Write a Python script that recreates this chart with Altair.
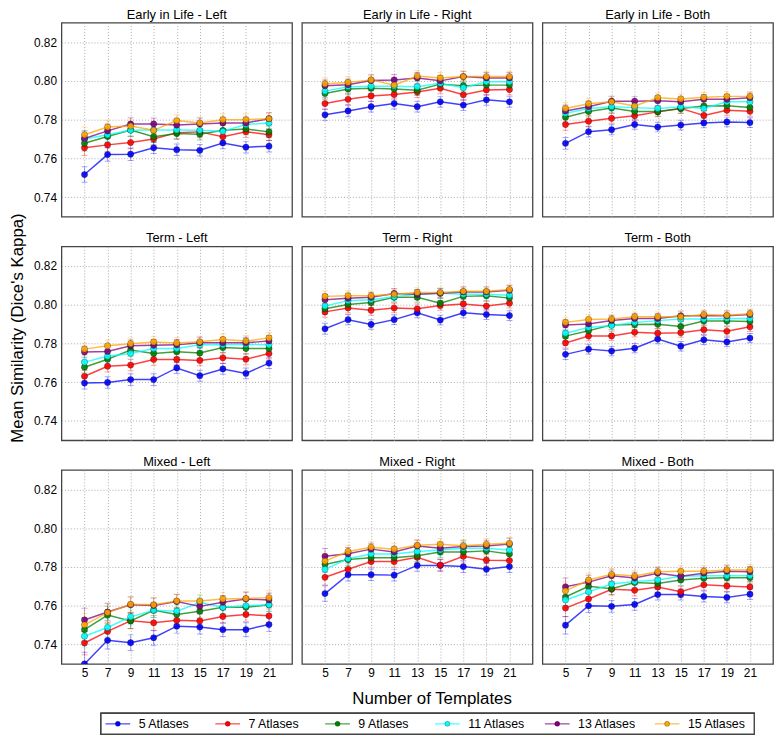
import altair as alt
import pandas as pd

TEMPLATES = [5, 7, 9, 11, 13, 15, 17, 19, 21]
SERIES = ["5 Atlases", "7 Atlases", "9 Atlases", "11 Atlases", "13 Atlases", "15 Atlases"]
COLORS = ["#0000ff", "#ff0000", "#008000", "#00ffff", "#800080", "#ffa500"]

# values per panel: one list per series (5, 7, 9, 11, 13, 15 atlases)
EARLY_LEFT = [
    [0.7517, 0.7620, 0.7622, 0.7655, 0.7645, 0.7642, 0.7680, 0.7658, 0.7663],
    [0.7655, 0.7670, 0.7682, 0.7700, 0.7733, 0.7737, 0.7712, 0.7738, 0.7722],
    [0.7678, 0.7713, 0.7747, 0.7712, 0.7728, 0.7725, 0.7745, 0.7752, 0.7737],
    [0.7700, 0.7722, 0.7745, 0.7747, 0.7747, 0.7745, 0.7740, 0.7775, 0.7783],
    [0.7703, 0.7742, 0.7778, 0.7778, 0.7772, 0.7778, 0.7783, 0.7783, 0.7805],
    [0.7722, 0.7762, 0.7767, 0.7745, 0.7795, 0.7783, 0.7800, 0.7800, 0.7805],
]
EARLY_RIGHT = [
    [0.7825, 0.7845, 0.7867, 0.7883, 0.7867, 0.7892, 0.7875, 0.7902, 0.7892],
    [0.7883, 0.7905, 0.7922, 0.7930, 0.7942, 0.7962, 0.7928, 0.7953, 0.7955],
    [0.7935, 0.7958, 0.7962, 0.7958, 0.7952, 0.7983, 0.7975, 0.7978, 0.7978],
    [0.7947, 0.7970, 0.7972, 0.7972, 0.7970, 0.7988, 0.7965, 0.7995, 0.7995],
    [0.7975, 0.7980, 0.8002, 0.8005, 0.8015, 0.8000, 0.8022, 0.8015, 0.8015],
    [0.7985, 0.7992, 0.8005, 0.7978, 0.8025, 0.8015, 0.8022, 0.8022, 0.8022],
]
EARLY_BOTH = [
    [0.7678, 0.7738, 0.7748, 0.7775, 0.7762, 0.7772, 0.7783, 0.7788, 0.7785],
    [0.7775, 0.7792, 0.7807, 0.7820, 0.7840, 0.7858, 0.7822, 0.7848, 0.7843],
    [0.7812, 0.7842, 0.7860, 0.7842, 0.7842, 0.7858, 0.7870, 0.7872, 0.7863],
    [0.7833, 0.7858, 0.7867, 0.7862, 0.7858, 0.7867, 0.7858, 0.7892, 0.7892],
    [0.7845, 0.7867, 0.7895, 0.7895, 0.7898, 0.7892, 0.7905, 0.7905, 0.7913],
    [0.7858, 0.7882, 0.7892, 0.7870, 0.7913, 0.7907, 0.7915, 0.7920, 0.7920],
]
TERM_LEFT = [
    [0.7595, 0.7598, 0.7613, 0.7613, 0.7673, 0.7633, 0.7668, 0.7645, 0.7698],
    [0.7630, 0.7682, 0.7688, 0.7717, 0.7717, 0.7712, 0.7725, 0.7718, 0.7747],
    [0.7677, 0.7718, 0.7765, 0.7748, 0.7757, 0.7750, 0.7778, 0.7773, 0.7773],
    [0.7703, 0.7733, 0.7748, 0.7773, 0.7773, 0.7792, 0.7792, 0.7795, 0.7792],
    [0.7755, 0.7758, 0.7787, 0.7790, 0.7792, 0.7803, 0.7803, 0.7803, 0.7812],
    [0.7770, 0.7787, 0.7798, 0.7807, 0.7802, 0.7808, 0.7820, 0.7812, 0.7828],
]
TERM_RIGHT = [
    [0.7875, 0.7922, 0.7897, 0.7922, 0.7957, 0.7920, 0.7957, 0.7948, 0.7943],
    [0.7962, 0.7982, 0.7970, 0.7982, 0.7978, 0.7995, 0.8003, 0.7992, 0.8007],
    [0.7978, 0.8000, 0.8010, 0.8037, 0.8037, 0.8007, 0.8042, 0.8045, 0.8033],
    [0.7992, 0.8020, 0.8025, 0.8040, 0.8053, 0.8058, 0.8053, 0.8053, 0.8048],
    [0.8025, 0.8032, 0.8037, 0.8057, 0.8053, 0.8058, 0.8065, 0.8065, 0.8073],
    [0.8042, 0.8045, 0.8045, 0.8053, 0.8062, 0.8062, 0.8068, 0.8068, 0.8078],
]
TERM_BOTH = [
    [0.7743, 0.7770, 0.7760, 0.7775, 0.7822, 0.7785, 0.7818, 0.7807, 0.7827],
    [0.7802, 0.7838, 0.7838, 0.7857, 0.7852, 0.7855, 0.7870, 0.7862, 0.7885],
    [0.7837, 0.7865, 0.7895, 0.7897, 0.7898, 0.7887, 0.7915, 0.7915, 0.7912],
    [0.7852, 0.7882, 0.7892, 0.7907, 0.7917, 0.7925, 0.7925, 0.7928, 0.7928],
    [0.7895, 0.7900, 0.7918, 0.7928, 0.7928, 0.7942, 0.7942, 0.7942, 0.7948],
    [0.7908, 0.7923, 0.7925, 0.7937, 0.7937, 0.7937, 0.7948, 0.7945, 0.7953],
]
MIXED_LEFT = [
    [0.7300, 0.7422, 0.7410, 0.7435, 0.7495, 0.7490, 0.7477, 0.7477, 0.7503],
    [0.7408, 0.7468, 0.7523, 0.7512, 0.7525, 0.7522, 0.7545, 0.7555, 0.7548],
    [0.7477, 0.7552, 0.7522, 0.7577, 0.7555, 0.7572, 0.7592, 0.7592, 0.7605],
    [0.7443, 0.7488, 0.7543, 0.7577, 0.7572, 0.7617, 0.7592, 0.7600, 0.7605],
    [0.7527, 0.7568, 0.7605, 0.7602, 0.7622, 0.7597, 0.7618, 0.7635, 0.7630],
    [0.7502, 0.7565, 0.7608, 0.7605, 0.7625, 0.7625, 0.7635, 0.7638, 0.7642],
]
MIXED_RIGHT = [
    [0.7663, 0.7760, 0.7760, 0.7758, 0.7808, 0.7808, 0.7802, 0.7788, 0.7802],
    [0.7747, 0.7788, 0.7828, 0.7828, 0.7850, 0.7810, 0.7855, 0.7835, 0.7833],
    [0.7813, 0.7838, 0.7847, 0.7847, 0.7858, 0.7877, 0.7877, 0.7883, 0.7867],
    [0.7788, 0.7842, 0.7867, 0.7867, 0.7880, 0.7888, 0.7897, 0.7897, 0.7888],
    [0.7855, 0.7868, 0.7892, 0.7877, 0.7908, 0.7897, 0.7905, 0.7908, 0.7918],
    [0.7830, 0.7880, 0.7902, 0.7892, 0.7912, 0.7917, 0.7910, 0.7917, 0.7922],
]
MIXED_BOTH = [
    [0.7500, 0.7600, 0.7597, 0.7607, 0.7658, 0.7658, 0.7648, 0.7643, 0.7660],
    [0.7588, 0.7635, 0.7685, 0.7680, 0.7697, 0.7672, 0.7708, 0.7702, 0.7697],
    [0.7645, 0.7700, 0.7688, 0.7720, 0.7715, 0.7733, 0.7742, 0.7745, 0.7745],
    [0.7630, 0.7672, 0.7712, 0.7725, 0.7733, 0.7752, 0.7755, 0.7755, 0.7755],
    [0.7698, 0.7722, 0.7755, 0.7743, 0.7768, 0.7752, 0.7768, 0.7778, 0.7775],
    [0.7677, 0.7733, 0.7762, 0.7753, 0.7775, 0.7778, 0.7778, 0.7785, 0.7785],
]

# error-bar half widths per panel, per template count
ERR_EARLY_LEFT = [0.0040, 0.0035, 0.0032, 0.0030, 0.0030, 0.0030, 0.0030, 0.0030, 0.0030]
ERR_EARLY_RIGHT = [0.0030, 0.0030, 0.0028, 0.0028, 0.0028, 0.0028, 0.0028, 0.0028, 0.0028]
ERR_EARLY_BOTH = [0.0030, 0.0028, 0.0026, 0.0025, 0.0025, 0.0025, 0.0025, 0.0025, 0.0025]
ERR_TERM_LEFT = [0.0030, 0.0030, 0.0030, 0.0030, 0.0028, 0.0028, 0.0028, 0.0028, 0.0028]
ERR_TERM_RIGHT = [0.0028, 0.0026, 0.0025, 0.0025, 0.0025, 0.0025, 0.0025, 0.0025, 0.0025]
ERR_TERM_BOTH = [0.0026, 0.0025, 0.0024, 0.0024, 0.0024, 0.0024, 0.0024, 0.0024, 0.0024]
ERR_MIXED_LEFT = [0.0060, 0.0045, 0.0040, 0.0038, 0.0036, 0.0035, 0.0035, 0.0035, 0.0035]
ERR_MIXED_RIGHT = [0.0040, 0.0032, 0.0030, 0.0030, 0.0030, 0.0030, 0.0030, 0.0030, 0.0030]
ERR_MIXED_BOTH = [0.0045, 0.0035, 0.0030, 0.0030, 0.0028, 0.0028, 0.0028, 0.0028, 0.0028]

PANELS = [
    ["Early in Life - Left", EARLY_LEFT, ERR_EARLY_LEFT],
    ["Early in Life - Right", EARLY_RIGHT, ERR_EARLY_RIGHT],
    ["Early in Life - Both", EARLY_BOTH, ERR_EARLY_BOTH],
    ["Term - Left", TERM_LEFT, ERR_TERM_LEFT],
    ["Term - Right", TERM_RIGHT, ERR_TERM_RIGHT],
    ["Term - Both", TERM_BOTH, ERR_TERM_BOTH],
    ["Mixed - Left", MIXED_LEFT, ERR_MIXED_LEFT],
    ["Mixed - Right", MIXED_RIGHT, ERR_MIXED_RIGHT],
    ["Mixed - Both", MIXED_BOTH, ERR_MIXED_BOTH],
]

FONT = "Liberation Sans"
W, H = 233, 196
CSCALE = alt.Scale(domain=SERIES, range=COLORS)


def panel(i):
    name, vals, errs = PANELS[i]
    row, col = divmod(i, 3)
    recs = []
    for s, series in enumerate(SERIES):
        for t, tmpl in enumerate(TEMPLATES):
            v = vals[s][t]
            recs.append({"template": tmpl, "series": series, "value": v,
                         "lo": v - errs[t], "hi": v + errs[t]})
    df = pd.DataFrame(recs)

    x_axis = alt.Axis(
        values=TEMPLATES, labels=(row == 2), ticks=False, domain=False,
        labelPadding=4, labelFontSize=12,
        title="Number of Templates" if (row == 2 and col == 1) else None,
        titleFontSize=17, titleFontWeight="normal", titleFont=FONT,
        titleX=131, titleY=35, titleBaseline="middle",
    )
    y_axis = alt.Axis(
        values=[0.74, 0.76, 0.78, 0.80, 0.82], format=".2f", labels=(col == 0),
        ticks=False, domain=False, labelPadding=5, labelFontSize=12,
        title="Mean Similarity (Dice's Kappa)" if (row == 0 and col == 0) else None,
        titleFontSize=17, titleFontWeight="normal", titleFont=FONT,
        titleX=-35, titleY=308,
    )
    xs = alt.Scale(domain=[3, 23], nice=False, zero=False)
    ys = alt.Scale(domain=[0.73, 0.83], nice=False, zero=False)

    base = alt.Chart(df)
    x = alt.X("template:Q", scale=xs, axis=x_axis)
    color = alt.Color("series:N", scale=CSCALE, legend=None)

    rules = base.mark_rule(strokeWidth=1, opacity=0.35, clip=True).encode(
        x=x, y=alt.Y("lo:Q", scale=ys, axis=y_axis), y2="hi:Q", color=color)
    cap_lo = base.mark_tick(orient="horizontal", size=6, thickness=1, opacity=0.35, clip=True).encode(
        x=x, y=alt.Y("lo:Q", scale=ys, axis=y_axis), color=color)
    cap_hi = base.mark_tick(orient="horizontal", size=6, thickness=1, opacity=0.35, clip=True).encode(
        x=x, y=alt.Y("hi:Q", scale=ys, axis=y_axis), color=color)
    lines = base.mark_line(strokeWidth=1.5, opacity=0.75, clip=True).encode(
        x=x, y=alt.Y("value:Q", scale=ys, axis=y_axis), color=color,
        detail="series:N")
    points = base.mark_point(filled=True, size=40, opacity=0.9, clip=True,
                             shape="circle", stroke="#000", strokeWidth=0.7,
                             strokeOpacity=0.45).encode(
        x=x, y=alt.Y("value:Q", scale=ys, axis=y_axis), color=color)

    return alt.layer(rules, cap_lo, cap_hi, lines, points).properties(
        width=W, height=H,
        title=alt.TitleParams(name, fontSize=13, fontWeight="normal", font=FONT,
                              offset=1, color="black", frame="group"),
    )


# legend drawn as a tenth cell under the grid (flush bounds: it may overhang its cell)
leg_df = pd.DataFrame({"series": SERIES})
leg_base = alt.Chart(leg_df).encode(
    x=alt.X("series:N", sort=SERIES, axis=None,
            scale=alt.Scale(type="point", range=[57, 612], padding=0)),
    color=alt.Color("series:N", scale=CSCALE, legend=None),
)
LEG_Y = 30.5
leg_frame = alt.Chart(leg_df).mark_rect(
    fill="white", stroke="#444", strokeWidth=1.3
).encode(x=alt.value(40), x2=alt.value(700), y=alt.value(20), y2=alt.value(41))
leg_seg = leg_base.mark_tick(orient="horizontal", size=25, thickness=1.5,
                             opacity=0.6).encode(y=alt.value(LEG_Y))
leg_dot = leg_base.mark_point(filled=True, size=26, opacity=1, shape="circle",
                              stroke="#000", strokeWidth=0.6,
                              strokeOpacity=0.45).encode(y=alt.value(LEG_Y))
leg_txt = leg_base.mark_text(align="left", baseline="middle", dx=21, font=FONT,
                             fontSize=12.5).encode(
    text="series:N", y=alt.value(LEG_Y), color=alt.value("black"))
legend_cell = alt.layer(leg_frame, leg_seg, leg_dot, leg_txt).properties(
    width=W, height=41, view=alt.ViewBackground(stroke=None)
)

chart = alt.concat(
    *[panel(i) for i in range(9)], legend_cell, columns=3,
    spacing=alt.RowColnumber(row=30, column=10), bounds="flush",
).properties(
    padding={"top": -4, "left": 0, "right": 0, "bottom": 0}
).configure_view(
    stroke="#444", strokeWidth=1.3
).configure_axis(
    gridColor="#a0a0a0", gridDash=[1, 2], gridWidth=0.9,
    labelFont=FONT, labelColor="black",
)

chart.save("out.html", embed_options={"renderer": "svg", "actions": False})
